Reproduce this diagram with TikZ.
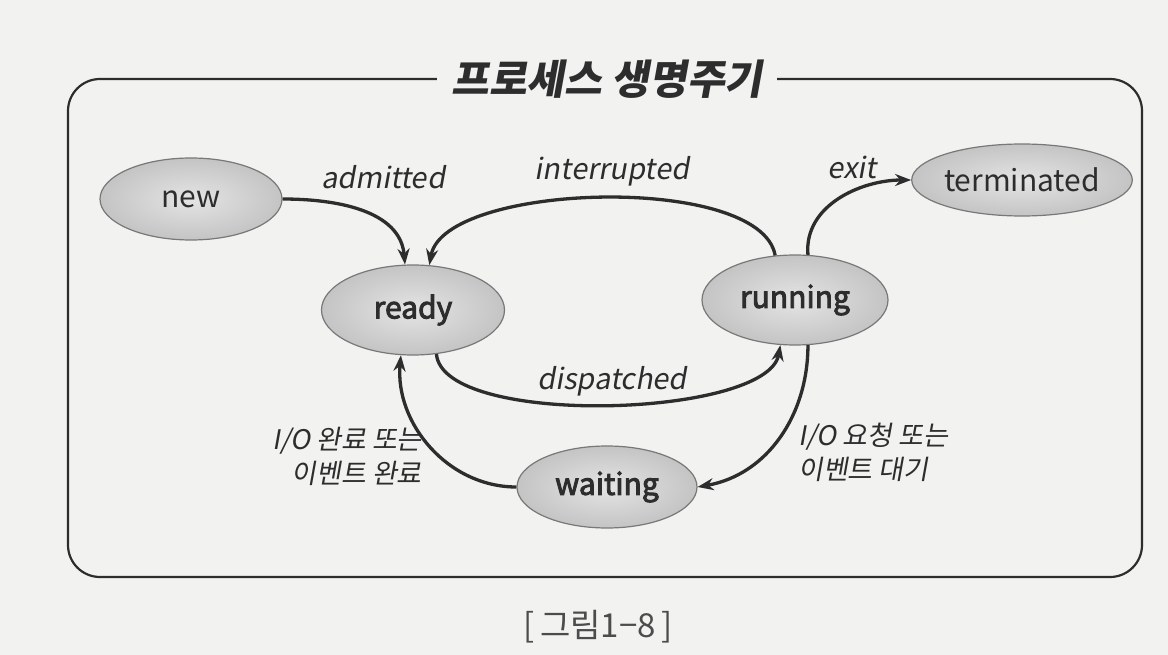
\documentclass[tikz,border=0pt]{standalone}
\usepackage{fontspec}
\setmainfont{Noto Sans CJK KR}
\newfontfamily\krit{Noto Sans CJK KR}[FakeSlant=0.18]
\newfontfamily\krsemi{Noto Sans CJK KR}[FakeBold=3]
\usetikzlibrary{shapes.geometric,arrows.meta}
\definecolor{pagebg}{RGB}{242,242,240}
\definecolor{ink}{RGB}{45,45,45}
\definecolor{ellin}{RGB}{228,228,228}
\definecolor{ellout}{RGB}{196,196,196}
\definecolor{ellline}{RGB}{120,120,120}
\tikzset{
  state/.style={ellipse, draw=ellline, line width=1.2pt, inner color=ellin, outer color=ellout,
    text=ink, font=\fontsize{30}{34}\selectfont, inner sep=0pt},
  bstate/.style={state, font=\krsemi\fontsize{30}{34}\selectfont},
  lbl/.style={text=ink, font=\krit\fontsize{29}{36}\selectfont, inner sep=0pt},
  conn/.style={draw=ink, line width=3.3pt, -{Stealth[length=16pt,width=12pt]}}
}
\begin{document}
\begin{tikzpicture}[x=1pt,y=1pt]
\useasboundingbox (0,0) rectangle (1168,-655);
\fill[pagebg] (0,0) rectangle (1168,-655);
% frame
\draw[ink, line width=2.2pt, rounded corners=32pt] (68,-79) rectangle (1142,-577);
\node[fill=pagebg, inner xsep=14pt, inner ysep=4pt, text=ink,
  font=\krit\fontsize{41}{46}\selectfont\bfseries] (title) at (607,-79) {프로세스 생명주기};
% states
\node[state, minimum width=182pt, minimum height=82pt] (new) at (191,-199) {new};
\node[bstate, minimum width=183pt, minimum height=90pt] (ready) at (413,-310) {ready};
\node[bstate, minimum width=186pt, minimum height=90pt] (running) at (795,-300) {running};
\node[state, minimum width=200pt, minimum height=72pt] (term) at (1022,-180) {terminated};
\node[bstate, minimum width=180pt, minimum height=82pt] (waiting) at (607,-487) {waiting};
% connectors
\draw[conn] (new.east) to[out=0, in=95] (ready.100);
\draw[conn] (running.114) to[out=100, in=80, looseness=0.62] (ready.70);
\draw[conn] (running.74) to[out=95, in=180] (term.west);
\draw[conn] (ready.-62) to[out=-85, in=-100, looseness=0.55] (running.-108);
\draw[conn] (running.-74) to[out=-90, in=10] (waiting.east);
\draw[conn] (waiting.west) to[out=180, in=-95] (ready.-105);
% labels
\node[lbl] (ladm) at (383,-177) {admitted};
\node[lbl] (lint) at (612,-171) {interrupted};
\node[lbl] (lexit) at (852,-167) {exit};
\node[lbl] (ldis) at (612,-381) {dispatched};
\node[lbl, align=right, anchor=east, font=\krit\fontsize{27}{34}\selectfont] (lio1) at (422,-456) {I/O 완료 또는\\이벤트 완료};
\node[lbl, align=left, anchor=west, font=\krit\fontsize{27}{34}\selectfont] (lio2) at (798,-452) {I/O 요청 또는\\이벤트 대기};
% caption
\node[text=ink!85, font=\fontsize{33}{38}\selectfont, inner sep=0pt] (cap) at (598,-627) {[\,그림1−8\,]};
\end{tikzpicture}
\end{document}
